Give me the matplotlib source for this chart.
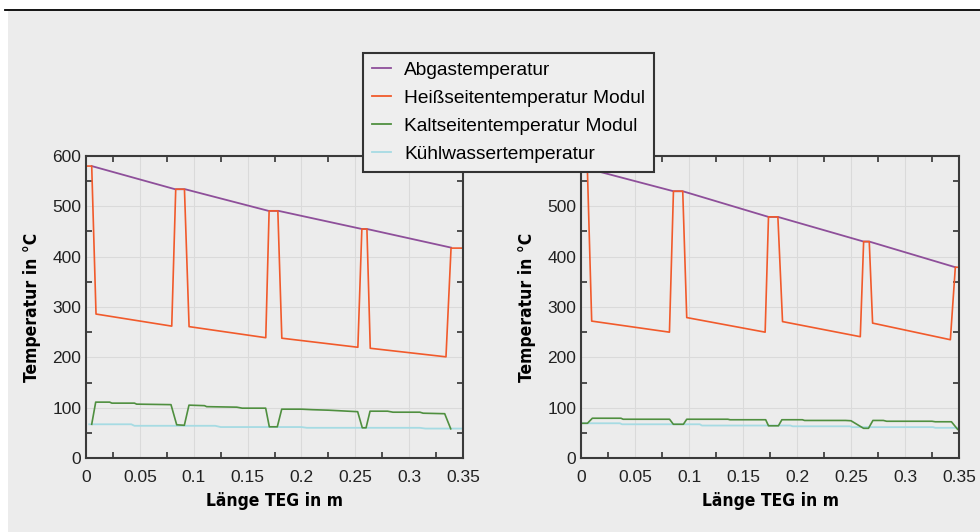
import matplotlib
matplotlib.use("Agg")
import matplotlib.pyplot as plt
from matplotlib.lines import Line2D
from matplotlib.patches import Rectangle

# colours / labels
C_ABGAS = "#8e4f9a"
C_HEISS = "#f15a2b"
C_KALT = "#4f8f3f"
C_KUEHL = "#a6dbe3"
BG = "#ececec"

labels = ["Abgastemperatur", "Heißseitentemperatur Modul",
          "Kaltseitentemperatur Modul", "Kühlwassertemperatur"]

x_ticks = [0, 0.05, 0.1, 0.15, 0.2, 0.25, 0.3, 0.35]
x_ticklabels = ["0", "0.05", "0.1", "0.15", "0.2", "0.25", "0.3", "0.35"]
y_ticks = [0, 100, 200, 300, 400, 500, 600]
x_minor = [0.025, 0.075, 0.125, 0.175, 0.225, 0.275, 0.325]
y_minor = [50, 150, 250, 350, 450, 550]

# ---- left panel ----
l_abgas_x = [0.0053, 0.0827, 0.092, 0.1694, 0.1787, 0.2561, 0.2608, 0.3389]
l_abgas_y = [580, 534, 534, 491, 491, 455, 455, 418]

l_heiss_x = [0.0012, 0.0053, 0.0093, 0.0796, 0.0833, 0.0914, 0.0957, 0.1669, 0.1700, 0.1781,
             0.1818, 0.2524, 0.2561, 0.2608, 0.2639, 0.3342, 0.3389, 0.35]
l_heiss_y = [580, 580, 286, 262, 534, 534, 261, 239, 491, 491,
             238, 220, 455, 455, 218, 201, 417, 417]

l_kalt_x = [0.0053, 0.009, 0.022, 0.024, 0.045, 0.047, 0.0789, 0.0842, 0.0913, 0.0956,
            0.11, 0.112, 0.14, 0.145, 0.1668, 0.1702, 0.1776, 0.1817, 0.20, 0.21,
            0.225, 0.2522, 0.2565, 0.26, 0.2637, 0.28, 0.285, 0.31, 0.313, 0.333, 0.3386]
l_kalt_y = [67, 111, 111, 109, 109, 107, 106, 66, 65, 105,
            104, 102, 101, 99, 99, 62, 62, 97, 97, 96,
            95, 92, 60, 60, 93, 93, 91, 91, 89, 88, 58]

l_kuehl_x = [0.003, 0.042, 0.045, 0.12, 0.125, 0.2, 0.205, 0.31, 0.315, 0.35]
l_kuehl_y = [67, 67, 64, 64, 61.5, 61.5, 60, 60, 58.5, 58.5]

# ---- right panel ----
r_abgas_x = [0.0059, 0.0856, 0.0942, 0.1736, 0.1823, 0.2617, 0.2669, 0.3466]
r_abgas_y = [575, 530, 530, 479, 479, 430, 430, 379]

r_heiss_x = [0.0015, 0.0059, 0.0099, 0.0819, 0.0856, 0.0942, 0.0979, 0.1705, 0.1736, 0.1823,
             0.1866, 0.2586, 0.2617, 0.2669, 0.27, 0.342, 0.3466, 0.35]
r_heiss_y = [575, 575, 272, 250, 530, 530, 279, 250, 479, 479,
             271, 241, 430, 430, 268, 235, 379, 379]

r_kalt_x = [0.0006, 0.006, 0.0105, 0.037, 0.039, 0.082, 0.0855, 0.0948, 0.0979, 0.136,
            0.138, 0.171, 0.1736, 0.1828, 0.186, 0.205, 0.207, 0.245, 0.25, 0.2616,
            0.2662, 0.2703, 0.28, 0.283, 0.325, 0.328, 0.343, 0.3487]
r_kalt_y = [69, 69, 79, 79, 77, 77, 67, 67, 77, 77,
            76, 76, 64, 64, 76, 76, 74.6, 74.6, 74, 59,
            59, 74.6, 74.6, 73, 73, 72, 72, 57]

r_kuehl_x = [0.0006, 0.036, 0.038, 0.11, 0.112, 0.194, 0.196, 0.249, 0.251, 0.326, 0.328, 0.35]
r_kuehl_y = [69, 69, 67, 67, 64.5, 64.5, 63, 63, 61.3, 61.3, 60, 60]

LABEL_FONT = dict(fontsize=12.5, fontweight="bold", family="DejaVu Sans", fontstretch="condensed")

fig = plt.figure(figsize=(9.8, 5.32), dpi=100, facecolor="white")
fig.patches.append(Rectangle((8 / 980, 0), 1, (532 - 11) / 532, transform=fig.transFigure,
                             facecolor=BG, edgecolor="none", zorder=-10))
fig.lines.append(Line2D([5 / 980, 1], [(532 - 10) / 532] * 2, transform=fig.transFigure,
                        color="black", lw=1.3))

ax_l = fig.add_axes([86 / 980, 74 / 532, 377 / 980, 302 / 532])
ax_r = fig.add_axes([581 / 980, 74 / 532, 378 / 980, 302 / 532])

panels = [
    (ax_l, (l_abgas_x, l_abgas_y), (l_heiss_x, l_heiss_y), (l_kalt_x, l_kalt_y), (l_kuehl_x, l_kuehl_y)),
    (ax_r, (r_abgas_x, r_abgas_y), (r_heiss_x, r_heiss_y), (r_kalt_x, r_kalt_y), (r_kuehl_x, r_kuehl_y)),
]

for ax, abgas, heiss, kalt, kuehl in panels:
    ax.set_facecolor(BG)
    ax.plot(*kuehl, color=C_KUEHL, lw=1.3)
    ax.plot(*kalt, color=C_KALT, lw=1.2)
    ax.plot(*abgas, color=C_ABGAS, lw=1.3)
    ax.plot(*heiss, color=C_HEISS, lw=1.2)
    ax.set_xlim(0, 0.35)
    ax.set_ylim(0, 600)
    ax.set_xticks(x_ticks, x_ticklabels)
    ax.set_yticks(y_ticks)
    ax.set_xticks(x_minor, minor=True)
    ax.set_yticks(y_minor, minor=True)
    ax.grid(True, which="major", color="#dadada", lw=0.8)
    ax.tick_params(which="major", length=0, labelsize=12.5, labelcolor="#222222")
    ax.tick_params(axis="y", which="major", pad=3.5)
    ax.tick_params(axis="x", which="major", pad=8.5)
    ax.tick_params(which="minor", direction="in", length=4, width=1.2, color="#333333",
                   top=True, right=True)
    for lab in ax.get_xticklabels() + ax.get_yticklabels():
        lab.set_family("Liberation Sans")
    for sp in ax.spines.values():
        sp.set_color("#3a3a3a")
        sp.set_linewidth(1.5)
    ax.set_xlabel("Länge TEG in m", labelpad=5, **LABEL_FONT)
    ax.set_ylabel("Temperatur in °C", labelpad=8, **LABEL_FONT)

handles = [Line2D([], [], color=c, lw=1.3) for c in (C_ABGAS, C_HEISS, C_KALT, C_KUEHL)]
leg = fig.legend(handles, labels, loc="upper left",
                 bbox_to_anchor=(363 / 980, (532 - 53) / 532),
                 prop={"family": "Liberation Sans", "size": 13.8},
                 handlelength=1.0, handletextpad=0.7, labelspacing=0.55,
                 borderpad=0.45, borderaxespad=0, fancybox=False, framealpha=1)
leg.get_frame().set_facecolor("#eeeeee")
leg.get_frame().set_edgecolor("#333333")
leg.get_frame().set_linewidth(1.5)

fig.savefig("out.png", dpi=100, facecolor="white")
